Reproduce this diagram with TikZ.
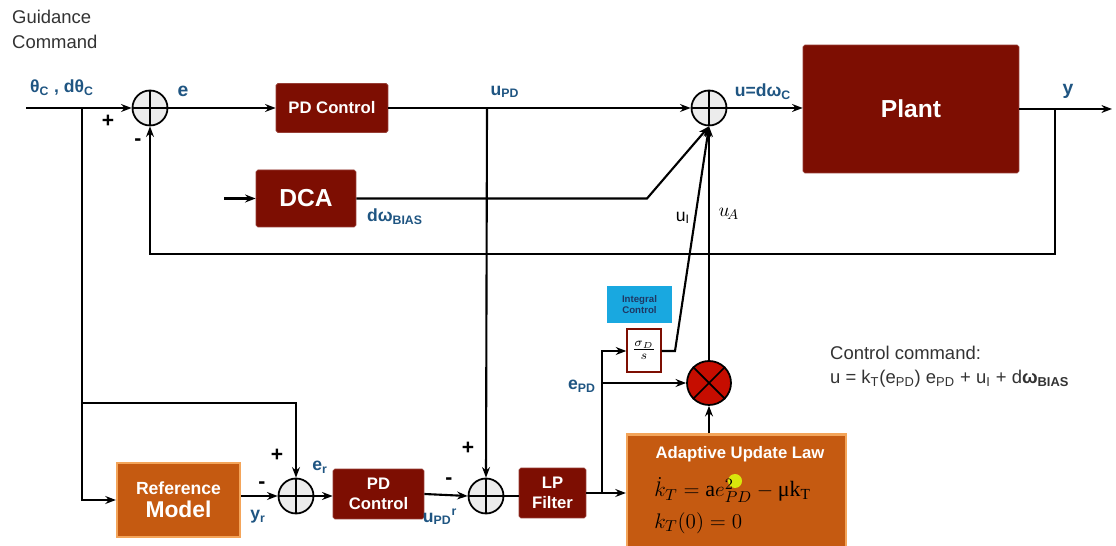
\documentclass[tikz,border=0pt]{standalone}
\usepackage{fontspec}
\setmainfont{Liberation Sans}
\newfontfamily\serifeq{Liberation Serif}
\usetikzlibrary{arrows.meta,calc}
\definecolor{dred}{HTML}{7D0E02}
\definecolor{lblue}{HTML}{1F5582}
\definecolor{orng}{HTML}{C55A11}
\definecolor{orbd}{HTML}{F4A55A}
\definecolor{icyan}{HTML}{19A8E0}
\definecolor{navy}{HTML}{1F3864}
\definecolor{txt}{HTML}{333333}
\tikzset{
  arr/.style={-{Stealth[length=6pt,width=4.5pt]}},
  ln/.style={line width=1.2pt, black},
  rbox/.style={draw=dred!80, fill=dred, text=white, font=\bfseries, align=center, inner sep=1pt, rounded corners=1pt},
  obox/.style={draw=orbd, line width=1.3pt, fill=orng, text=white, font=\bfseries, align=center, inner sep=1pt},
  sumc/.style={circle, draw, line width=1pt, fill=gray!15, minimum size=0.7cm, inner sep=0pt},
  lbl/.style={text=lblue, font=\bfseries},
  sgn/.style={font=\bfseries\large},
}
\begin{document}
\begin{tikzpicture}[x=0.02cm,y=-0.02cm]
\clip (0,0) rectangle (1116,546);
\fill[white] (0,0) rectangle (1116,546);
% texts top-left
\node[anchor=west, text=txt, font=\fontsize{10.5}{12}\selectfont] (g1) at (6,17) {Guidance};
\node[anchor=west, text=txt, font=\fontsize{10.5}{12}\selectfont] (g2) at (6,42) {Command};
% blocks
\node[sumc] (s1) at (150,108) {};
\node[rbox, minimum width=2.24cm, minimum height=0.98cm, font=\bfseries\fontsize{9.5}{11}\selectfont] (pd1) at (332,108) {PD Control};
\node[sumc] (s2) at (709,108) {};
\node[rbox, minimum width=4.32cm, minimum height=2.56cm, font=\bfseries\fontsize{14}{16}\selectfont] (plant) at (911,109) {Plant};
\node[rbox, minimum width=2.0cm, minimum height=1.14cm, font=\bfseries\fontsize{14}{16}\selectfont] (dca) at (306,198.5) {DCA};
\node[fill=icyan, text=navy, font=\bfseries\fontsize{5.5}{6.5}\selectfont, align=center, minimum width=1.3cm, minimum height=0.74cm, inner sep=0pt] (intc) at (639.5,304.5) {Integral\\Control};
\node[draw=dred, line width=0.8pt, fill=white, minimum width=0.68cm, minimum height=0.86cm, inner sep=0pt] (sig) at (644,350.5) {$\frac{\sigma_{\scriptscriptstyle D}}{s}$};
\node[circle, draw, line width=1pt, fill=red!75!black!90!orange, minimum size=0.88cm, inner sep=0pt] (mult) at (709,383) {};
\draw[line width=1pt] (mult.north west) -- (mult.south east) (mult.north east) -- (mult.south west);
\node[obox, minimum width=4.38cm, minimum height=2.5cm] (aul) at (736.5,497) {};
\node[text=white, inner sep=0pt, font=\bfseries\fontsize{9.5}{11}\selectfont] (aultitle) at (740,454) {Adaptive Update Law};
\fill[yellow!85!green] (735,481) circle (7);
\node[anchor=west, inner sep=0pt, font=\fontsize{12.5}{14}\selectfont] (eq1) at (654,490) {$\dot{k}_T = \mbox{\serifeq a}e^{2}_{PD} - \mbox{\serifeq μk\textsubscript{T}}$};
\node[anchor=west, inner sep=0pt, font=\fontsize{12.5}{14}\selectfont] (eq2) at (654,523) {$k_T(0) = 0$};
\node[obox, minimum width=2.46cm, minimum height=1.48cm] (refm) at (178.5,500) {\fontsize{10}{12}\selectfont Reference\\[1pt]\fontsize{13}{15}\selectfont Model};
\node[sumc] (sr) at (296,496) {};
\node[rbox, minimum width=1.82cm, minimum height=1.0cm, font=\bfseries\fontsize{9.5}{11.5}\selectfont] (pd2) at (378.5,494) {PD\\Control};
\node[sumc] (s3) at (486,496) {};
\node[rbox, minimum width=1.34cm, minimum height=1.0cm, font=\bfseries\fontsize{9.5}{11.5}\selectfont] (lp) at (552.5,493) {LP\\Filter};
% crosses in sums
\foreach \s in {s1,s2,sr,s3}{\draw[line width=0.8pt] (\s.north) -- (\s.south) (\s.west) -- (\s.east);}
% coordinates
\coordinate (in) at (26,108);
\coordinate (br) at (82,108);
\coordinate (j1) at (487,108);
\coordinate (out) at (1112,109);
\coordinate (fb) at (1055,109);
\coordinate (dcain) at (224,198.5);
\coordinate (dk) at (647,198.5);
\coordinate (uik) at (675,351);
\coordinate (br2) at (82,403);
\coordinate (j2) at (602,493);
% connectors
\draw[ln,arr] (in) -- (s1.west);
\draw[ln,arr] (s1.east) -- (pd1.west);
\draw[ln,arr] (pd1.east) -- (s2.west);
\draw[ln,arr] (s2.east) -- (s2.east -| plant.west);
\draw[ln,arr] (plant.east) -- (out);
\draw[ln,arr] (fb) |- (150,254) -- (s1.south);
\draw[ln,arr] (dcain) -- (dca.west);
\draw[ln,arr] (dca.east) -- (dk) -- (s2.south);
\draw[ln,arr] (sig.east |- uik) -- (uik) -- (s2.south);
\draw[ln,arr] (mult.north) -- (s2.south);
\draw[ln,arr] (br) |- (refm.west |- 0,500) ;
\draw[ln,arr] (br2) -| (sr.north);
\draw[ln,arr] (sr.west -| refm.east) -- (sr.west);
\draw[ln,arr] (sr.east) -- (pd2.west |- sr.east);
\draw[ln,arr] (pd2.east) -- (s3.west);
\draw[ln,arr] (j1) -- (s3.north);
\draw[ln] (s3.east) -- (lp.west |- s3.east);
\draw[ln,arr] (lp.east) -- (lp.east -| aul.west);
\draw[ln,arr] (j2) |- (sig.west |- uik);
\draw[ln,arr] (602,383) -- (mult.west);
\draw[ln,arr] (aul.north -| mult) -- (mult.south);
% labels
\node[lbl, font=\bfseries\fontsize{10}{12}\selectfont] (lth) at (62,88) {θ\textsubscript{C} , dθ\textsubscript{C}};
\node[lbl, font=\bfseries\fontsize{11}{12}\selectfont] (le) at (183,91) {e};
\node[sgn] (p1) at (108,121) {+};
\node[sgn] (m1) at (138,142) {-};
\node[lbl, font=\bfseries\fontsize{10}{12}\selectfont] (lupd) at (505,92) {u\textsubscript{PD}};
\node[lbl, font=\bfseries\fontsize{10}{12}\selectfont] (lu) at (763,92) {u=dω\textsubscript{C}};
\node[lbl, font=\bfseries\fontsize{11}{12}\selectfont] (ly) at (1068,91) {y};
\node[lbl, font=\bfseries\fontsize{10}{12}\selectfont] (ldw) at (395,217) {dω\textsubscript{BIAS}};
\node[font=\fontsize{10}{12}\selectfont] (lui) at (683,218) {u\textsubscript{I}};
\node[font=\fontsize{11}{12}\selectfont] (lua) at (729,214) {$u_{\!A}$};
\node[lbl, font=\bfseries\fontsize{10}{12}\selectfont] (lepd) at (582,386) {e\textsubscript{PD}};
\node[sgn] (p2) at (277,455) {+};
\node[sgn] (m2) at (262,485) {-};
\node[lbl, font=\bfseries\fontsize{10}{12}\selectfont] (lyr) at (258,517) {y\textsubscript{r}};
\node[lbl, font=\bfseries\fontsize{10}{12}\selectfont] (ler) at (320,467) {e\textsubscript{r}};
\node[sgn] (m3) at (449,481) {-};
\node[sgn] (p3) at (468,448) {+};
\node[lbl, font=\bfseries\fontsize{10}{12}\selectfont] (lupr) at (440,517) {u\textsubscript{PD}\textsuperscript{r}};
\node[anchor=west, text=txt, font=\fontsize{10.5}{12}\selectfont] (cc1) at (824,353) {Control command:};
\node[anchor=west, text=txt, font=\fontsize{10.5}{12}\selectfont] (cc2) at (824,379) {u = k\textsubscript{T}(e\textsubscript{PD}) e\textsubscript{PD} + u\textsubscript{I} + d\textbf{ω\textsubscript{BIAS}}};
\end{tikzpicture}
\end{document}
